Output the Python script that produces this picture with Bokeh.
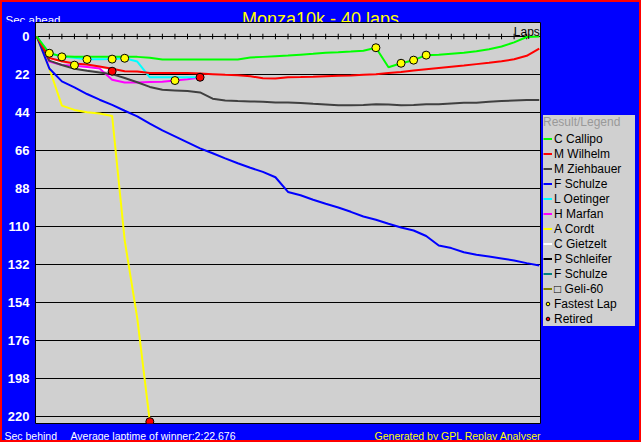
from bokeh.plotting import figure
from bokeh.layouts import column, row
from bokeh.models import Range1d, FixedTicker, Label, Legend, LegendItem
from bokeh.embed import file_html
from bokeh.resources import INLINE

# ---------------- data ----------------
title_text = "Monza10k - 40 laps"
laps = list(range(41))
lap_ticks = list(range(1, 40))
y_ticks = [0, 22, 44, 66, 88, 110, 132, 154, 176, 198, 220]

names = ["C Callipo", "M Wilhelm", "M Ziehbauer", "F Schulze", "L Oetinger",
         "H Marfan", "A Cordt", "C Gietzelt", "P Schleifer", "F Schulze", "\u25a1 Geli-60"]
colors = ["#00FF00", "#FF0000", "#404040", "#0000FF", "#00FFFF",
          "#FF00FF", "#FFFF00", "#FFFFFF", "#000000", "#008080", "#808000"]

callipo = [0, 9.7, 11.5, 11.8, 11.8, 11.8, 11.8, 11.8, 11.8, 12.3,
           13.3, 13.3, 13.3, 13.3, 13.3, 13.3, 13.3, 12.2, 11.8, 11.4,
           11.0, 10.5, 10.0, 9.4, 9.1, 8.7, 8.2, 6.5, 17.8, 15.5,
           13.7, 10.8, 10.6, 10.0, 9.4, 8.6, 7.4, 5.8, 3.4, 0.3, 0.0]
wilhelm = [0, 12.5, 14.3, 15.6, 16.2, 17.4, 18.7, 20.1, 20.3, 21.2,
           21.2, 21.2, 21.2, 21.4, 21.8, 22.2, 22.4, 23.0, 24.2, 24.3,
           23.6, 23.5, 23.3, 23.0, 22.8, 22.6, 22.2, 21.8, 21.2, 20.6,
           19.7, 18.9, 18.2, 17.5, 16.8, 16.0, 15.2, 14.3, 13.2, 11.2, 7.0]
ziehbauer = [0, 14.0, 16.5, 18.7, 19.8, 20.8, 21.8, 24.0, 26.5, 29.2,
             30.8, 31.2, 31.6, 32.4, 36.0, 37.0, 37.4, 37.6, 37.8, 38.2,
             38.2, 38.5, 39.0, 39.4, 39.8, 39.8, 39.6, 39.2, 39.4, 39.8,
             39.6, 39.2, 39.2, 38.8, 38.4, 38.4, 37.8, 37.4, 37.0, 36.7, 36.7]
schulze = [0, 18.5, 26.0, 29.5, 33.3, 36.6, 39.6, 43.0, 46.2, 50.5,
           54.4, 57.8, 61.3, 64.8, 67.6, 70.6, 73.4, 76.0, 78.4, 81.5,
           90.0, 91.9, 94.5, 96.8, 99.0, 101.5, 104.2, 106.1, 108.4, 110.6,
           112.3, 115.5, 121.0, 122.5, 124.9, 126.4, 127.4, 128.5, 129.7, 131.2, 132.6]
oetinger = [0, 9.7, 11.6, 12.3, 13.2, 13.2, 13.1, 12.6, 14.5, 23.6, 23.6, 23.6, 23.6, 23.6]
marfan = [0, 14.5, 16.5, 17.0, 17.6, 18.5, 25.0, 26.6, 26.6, 26.4, 26.2, 25.5, 24.8, 23.8]
cordt = [0, 18.5, 40.0, 42.5, 43.8, 44.6, 46.0, 118.0, 163.0, 223.0]
gietzelt = [0, 13.0, 16.0, 17.8, 18.3, 19.0, 20.1]
schleifer = []
schulze2 = []
geli = []
series = [callipo, wilhelm, ziehbauer, schulze, oetinger, marfan, cordt,
          gietzelt, schleifer, schulze2, geli]

fl_laps = [1, 2, 3, 4, 6, 7, 11, 27, 29, 30, 31]
fl_secs = [9.7, 11.8, 16.6, 13.3, 13.1, 12.6, 25.5, 6.5, 15.5, 13.7, 10.8]
ret_laps = [6, 13, 9]
ret_secs = [20.1, 23.6, 223.0]

avg_text = "Average laptime of winner:2:22.676"

# ---------------- layout ----------------
FONT = "Liberation Sans"
BLUE = "#0000FF"
PANEL = "#D0D0D0"
W = 637
TOP_H, MAIN_H, BOT_H = 20, 402, 16
LEFT_W, LEG_W = 33, 98
MAIN_W = W - LEG_W
NAN = float("nan")


def strip(width, height):
    f = figure(width=width, height=height, output_backend="svg", toolbar_location=None,
               x_range=Range1d(0, width), y_range=Range1d(height, 0),
               x_axis_location=None, y_axis_location=None, min_border=0,
               background_fill_color=BLUE, border_fill_color=BLUE, outline_line_color=None)
    f.grid.visible = False
    return f


def lab(f, x, y, text, color, size, align="left", baseline="alphabetic"):
    f.add_layout(Label(x=x, y=y, text=text, text_color=color, text_font=FONT,
                       text_font_size=size, text_align=align, text_baseline=baseline))


# top strip
top = strip(W, TOP_H)
lab(top, 3, 17, "Sec ahead", "#FFFFFF", "11.5px")
lab(top, 318, 16.5, title_text, "#FFFF00", "18px", align="center")

# main chart
p = figure(width=MAIN_W, height=MAIN_H, output_backend="svg", toolbar_location=None,
           x_range=Range1d(-0.1, 40.1), y_range=Range1d(224.05, -8.1),
           x_axis_location=None,
           min_border_left=LEFT_W, min_border_right=1, min_border_top=0, min_border_bottom=1,
           background_fill_color=PANEL, border_fill_color=BLUE,
           outline_line_color="#000000", outline_line_width=1)

p.xgrid.visible = False
p.ygrid.ticker = FixedTicker(ticks=y_ticks)
p.ygrid.grid_line_color = "#000000"
p.ygrid.grid_line_width = 1

ax = p.yaxis[0]
ax.ticker = FixedTicker(ticks=y_ticks)
ax.axis_line_color = None
ax.major_tick_line_color = None
ax.minor_tick_line_color = None
ax.major_tick_out = 0
ax.major_label_standoff = 6
ax.major_label_text_color = "#FFFFFF"
ax.major_label_text_font = FONT
ax.major_label_text_font_style = "bold"
ax.major_label_text_font_size = "13px"

# lap ticks on the zero line
p.segment(x0=lap_ticks, x1=lap_ticks, y0=[-1.6 for _ in lap_ticks], y1=[1.6 for _ in lap_ticks],
          line_color="#000000", line_width=1)

for i in reversed(range(len(names))):
    vals = series[i]
    p.line(laps[:len(vals)], vals, line_color=colors[i], line_width=2)

p.scatter(fl_laps, fl_secs, marker="circle", size=8, fill_color="#FFFF00",
          line_color="#000000", line_width=1)
p.scatter(ret_laps, ret_secs, marker="circle", size=8, fill_color="#FF0000",
          line_color="#000000", line_width=1)

p.add_layout(Label(x=40.05, y=0, y_offset=4, text="Laps", text_color="#000000", text_font=FONT,
                   text_font_size="12px", text_align="right", text_baseline="alphabetic"))

# legend panel (sample glyphs only, no visible data)
lf = figure(width=LEG_W, height=MAIN_H, output_backend="svg", toolbar_location=None,
            x_range=Range1d(0, 1), y_range=Range1d(0, 1),
            x_axis_location=None, y_axis_location=None, min_border=0,
            background_fill_color=BLUE, border_fill_color=BLUE, outline_line_color=None)
lf.grid.visible = False
items = []
for i in range(len(names)):
    r = lf.line([NAN], [NAN], line_color=colors[i], line_width=2)
    items.append(LegendItem(label=names[i], renderers=[r]))
r_fl = lf.scatter([NAN], [NAN], marker="circle", size=7, fill_color="#FFFF00",
                  line_color="#000000", line_width=1)
r_ret = lf.scatter([NAN], [NAN], marker="circle", size=7, fill_color="#FF0000",
                   line_color="#000000", line_width=1)
items.append(LegendItem(label="Fastest Lap", renderers=[r_fl]))
items.append(LegendItem(label="Retired", renderers=[r_ret]))
legend = Legend(items=items, title="Result/Legend", location=(2, 97),
                title_text_color="#999999", title_text_font=FONT, title_text_font_size="12px",
                title_text_font_style="normal", title_standoff=2,
                label_text_font=FONT, label_text_font_size="12px", label_text_color="#000000",
                glyph_width=9, glyph_height=15, label_height=15, label_standoff=2,
                label_width=81, spacing=0, padding=3, margin=0,
                background_fill_color=PANEL, background_fill_alpha=1,
                border_line_color=None)
lf.add_layout(legend, "center")

# bottom strip
bot = strip(W, BOT_H)
lab(bot, 2, 11, "Sec behind", "#FFFFFF", "10.5px")
lab(bot, 68, 11, avg_text, "#FFFFFF", "10.5px")
lab(bot, MAIN_W, 11, "Generated by GPL Replay Analyser", "#FFFF00", "10.5px", align="right")

layout = column(top, row(p, lf, spacing=0), bot, spacing=0,
                styles={"border": "2px solid #FF0000", "background-color": BLUE})

open("out.html", "w").write(file_html(layout, INLINE))
